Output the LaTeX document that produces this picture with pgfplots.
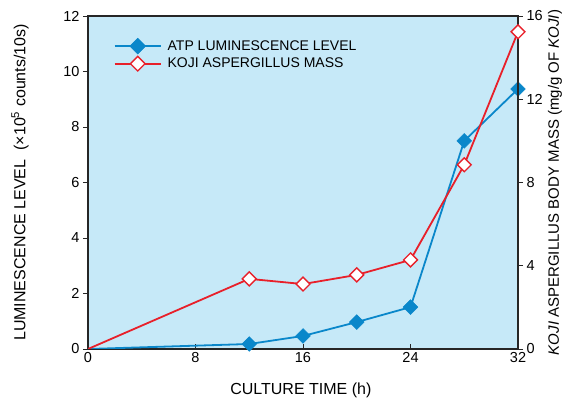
\documentclass[border=0pt]{standalone}
\usepackage{fontspec}
\setmainfont{Liberation Sans}
\usepackage{pgfplots}
\pgfplotsset{compat=1.18}
\definecolor{bgblue}{HTML}{C6E9F8}
\definecolor{lineblue}{HTML}{0A87CA}
\definecolor{linered}{HTML}{E8202A}
\begin{document}
\begin{tikzpicture}
\pgfplotsset{
  every axis/.append style={font=\fontsize{14}{16}\selectfont},
  /pgf/number format/assume math mode=true,
  every axis label/.append style={font=\fontsize{16}{18}\selectfont},
  every tick label/.append style={font=\fontsize{14.5}{16}\selectfont},
}
\begin{axis}[
  name=main, at={(0,0)}, anchor=south west,
  scale only axis, width=430pt, height=333pt,
  xmin=0, xmax=32, ymin=0, ymax=12,
  xtick={0,8,16,24,32}, ytick={0,2,...,12},
  axis background/.style={fill=bgblue},
  axis line style={line width=1.4pt, black!85},
  tick style={black!85, line width=0.8pt},
  major tick length=5pt,
  xtick pos=bottom, ytick pos=left,
  xtick align=inside, ytick align=outside,
  xlabel={CULTURE TIME (h)},
  ylabel={LUMINESCENCE LEVEL \ (×10\textsuperscript{5} counts/10s)},
  xlabel style={at={(axis description cs:0.495,-0.123)}, anchor=center},
  ylabel style={at={(axis description cs:-0.158,0.5)}, anchor=center},
  legend style={draw=none, fill=none, at={(0.055,0.94)}, anchor=north west, row sep=2pt, inner sep=2pt},
  legend cell align=left,
  legend image code/.code={\draw[#1] (0pt,0pt) -- (46pt,0pt); \draw[#1, mark repeat=1] plot coordinates {(23pt,0pt)}; \path (50pt,0pt);},
]
\addlegendimage{lineblue, line width=1.8pt, mark=square*, mark size=5.6pt, mark options={rotate=45, fill=lineblue, draw=lineblue, line width=0.5pt}}
\addlegendentry{ATP LUMINESCENCE LEVEL}
\addlegendimage{linered, line width=1.8pt, mark=square*, mark size=5.2pt, mark options={rotate=45, fill=white, draw=linered, line width=1.4pt}}
\addlegendentry{KOJI ASPERGILLUS MASS}
\addplot[forget plot, lineblue, line width=1.8pt, mark=square*, mark size=5.2pt, mark indices={2,3,4,5,6,7},
  mark options={rotate=45, fill=lineblue, draw=lineblue, line width=0.5pt}]
  coordinates {(0,0) (12,0.18) (16,0.47) (20,0.97) (24,1.51) (28,7.5) (32,9.37)};
\end{axis}
\begin{axis}[
  at={(0,0)}, anchor=south west,
  scale only axis, width=430pt, height=333pt,
  xmin=0, xmax=32, ymin=0, ymax=16,
  ytick={0,4,...,16},
  axis y line*=right, axis x line=none,
  axis line style={line width=1.4pt, black!85},
  tick style={black!85, line width=0.8pt},
  major tick length=5pt,
  ytick align=outside,
  ylabel={\textit{KOJI} ASPERGILLUS BODY MASS (mg/g OF \textit{KOJI})},
  ylabel style={at={(axis description cs:1.086,0.5)}, anchor=center, font=\fontsize{15}{17}\selectfont},
]
\addplot[linered, line width=1.8pt, mark=square*, mark size=4.9pt, mark indices={2,3,4,5,6,7},
  mark options={rotate=45, fill=white, draw=linered, line width=1.4pt}]
  coordinates {(0,0) (12,3.37) (16,3.12) (20,3.56) (24,4.28) (28,8.85) (32,15.24)};
\end{axis}
\pgfresetboundingbox
\path (-88pt,-54pt) rectangle (487pt,349pt);
\end{tikzpicture}
\end{document}
